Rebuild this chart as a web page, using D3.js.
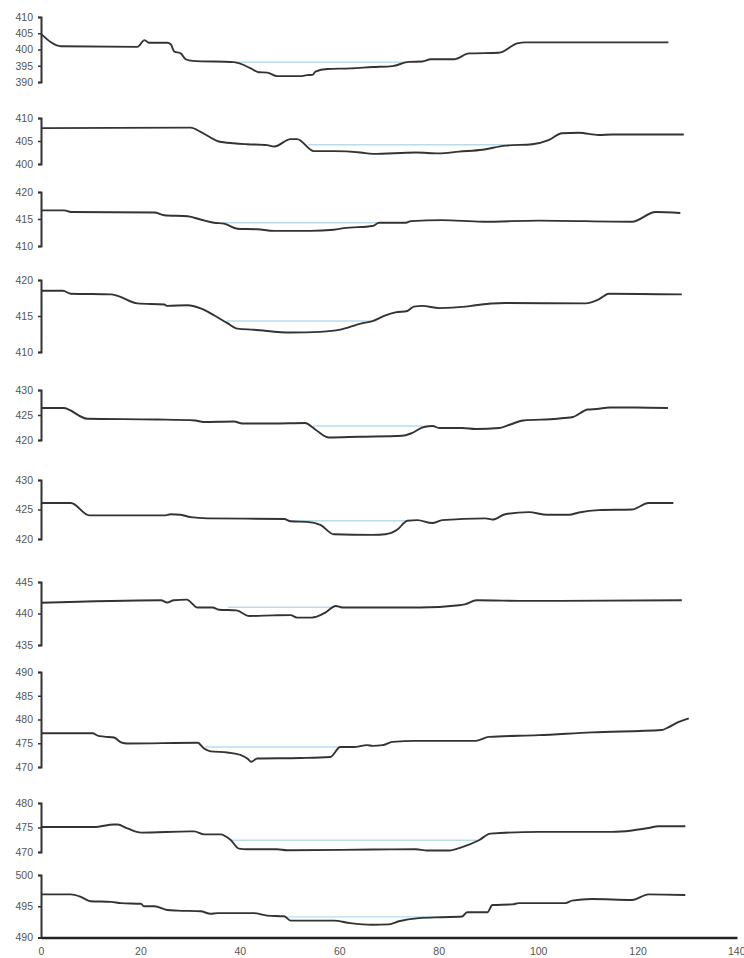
<!DOCTYPE html>
<html>
<head>
<meta charset="utf-8">
<script src="https://cdn.jsdelivr.net/npm/d3@7"></script>
<style>
  html, body { margin: 0; padding: 0; background: #fff; }
  svg { display: block; }
  .tick text { font-family: "Liberation Sans", Arial, sans-serif; font-size: 10.5px; fill: #555; }
</style>
</head>
<body>
<svg id="chart" width="744" height="958"></svg>
<script>
// ---------- DATA (distance, elevation) ----------
const section1 = [[0,404.8],[4,401],[19.4,400.8],[20.8,402.9],[21.7,402.1],[25.4,402.1],[26.1,401.6],[26.8,399.4],[28.1,398.8],[29.1,397],[30.5,396.5],[38.8,396.1],[42.2,394.2],[43.8,393],[45.5,392.9],[47.5,391.8],[52.2,391.8],[53.5,392.1],[54.6,392.2],[55.2,393.2],[57.6,394],[62.2,394.2],[66.7,394.6],[70.7,394.9],[74,396.2],[76.7,396.3],[78.4,397],[83.1,397],[86.1,398.8],[92.1,399],[95.8,401.9],[97.5,402.2],[126.2,402.2]];
const section2 = [[0,407.8],[30.1,407.9],[32.1,407],[35.8,404.9],[38.8,404.5],[41.5,404.3],[45.5,404.1],[46.9,403.8],[50.2,405.4],[51.5,405.4],[54.9,402.8],[58.9,402.8],[64.3,402.5],[66.7,402.2],[75.4,402.5],[80.1,402.3],[84.1,402.7],[88.8,403.1],[93.4,404],[98.8,404.3],[102.1,405.2],[104.8,406.7],[108.2,406.8],[112.2,406.3],[114.9,406.4],[129.3,406.4]];
const section3 = [[0,416.6],[4.7,416.6],[6,416.3],[22.8,416.2],[24.8,415.7],[29.5,415.5],[32.1,414.9],[34.8,414.3],[36.8,414.15],[39.5,413.2],[43.5,413.1],[46.9,412.8],[54.2,412.8],[58.9,413],[60.9,413.3],[66.7,413.7],[68,414.3],[73.4,414.3],[74.4,414.6],[80.7,414.8],[88.8,414.5],[100.1,414.7],[118.9,414.5],[123.6,416.3],[128.6,416.1]];
const section4 = [[0,418.5],[4.4,418.5],[6,418.1],[14.1,418],[15.4,417.8],[19.4,416.75],[24.8,416.6],[25.4,416.4],[29.5,416.5],[32.1,416.05],[34.8,415.1],[37.5,414],[39.5,413.25],[42.8,413.1],[50.2,412.7],[56.2,412.8],[60.2,413.1],[64.3,413.95],[66.7,414.3],[69.3,415.1],[71.3,415.5],[73.7,415.7],[75,416.3],[76.7,416.4],[80.1,416.1],[85.4,416.3],[87.4,416.5],[93.4,416.8],[109.5,416.75],[112.2,417.3],[114.2,418.1],[128.9,418]];
const section5 = [[0,426.4],[4.5,426.4],[9.3,424.25],[23.2,424.1],[31,423.9],[32.7,423.6],[38.8,423.7],[40.5,423.3],[46.6,423.3],[53.1,423.4],[55.3,422],[57.9,420.5],[64,420.65],[72.7,420.85],[74.4,421.3],[77,422.6],[78.8,422.8],[80.1,422.4],[84.8,422.4],[87.4,422.2],[92.2,422.4],[94.4,423.1],[97,423.9],[103.9,424.25],[105.2,424.4],[107,424.6],[110,426.1],[111.8,426.2],[114.4,426.5],[119.6,426.5],[126.1,426.4]];
const section6 = [[0,426.1],[6,426.1],[9.7,424],[24.8,424],[26.1,424.2],[28.1,424.1],[30.1,423.7],[33.5,423.5],[48.9,423.4],[50.2,423],[53.5,422.9],[56.2,422.4],[58.9,420.8],[66.7,420.7],[69.3,420.8],[71.7,421.6],[73.7,423.1],[75.7,423.2],[78.7,422.7],[80.7,423.2],[89.4,423.5],[90.8,423.3],[93.4,424.2],[98.1,424.55],[101.8,424.1],[106.2,424.1],[108.2,424.5],[112.2,424.9],[118.9,425],[122.2,426.1],[127.2,426.1]];
const section7 = [[0,441.7],[24.1,442.1],[25.4,441.75],[26.7,442.1],[29.3,442.2],[31.5,440.95],[34.5,440.95],[35.8,440.6],[39.3,440.5],[41.9,439.6],[46.7,439.7],[50.2,439.75],[51.5,439.35],[54.5,439.35],[57.1,440.1],[59.3,441.2],[60.6,440.95],[76.2,440.95],[84.1,441.3],[85.4,441.5],[87.6,442.1],[98,442],[128.9,442.1]];
const section8 = [[0,477.1],[10.4,477.1],[11.4,476.6],[12.7,476.4],[14.7,476.2],[16.1,475.2],[17.4,474.95],[31.5,475.1],[32.8,473.9],[34.1,473.3],[37.5,473.05],[40.2,472.5],[41.5,471.8],[42.3,471.1],[43.5,471.8],[52.2,471.9],[58.2,472.1],[60.2,474.2],[62.9,474.2],[65.6,474.6],[66.7,474.45],[68.7,474.6],[70.7,475.3],[75.4,475.5],[87.4,475.5],[90.1,476.35],[100.1,476.7],[110.8,477.3],[124.9,477.8],[126.2,478.35],[128.3,479.5],[130.3,480.25]];
const section9 = [[0,475.1],[10.7,475.1],[14.7,475.6],[15.4,475.6],[17.4,474.8],[20.1,473.95],[30.1,474.2],[30.8,474.2],[32.8,473.6],[36.1,473.6],[38.2,472.4],[39.8,470.7],[41.5,470.55],[47.5,470.55],[49.5,470.35],[66.7,470.5],[75.4,470.55],[77.7,470.3],[82.1,470.3],[84.7,471],[88.1,472.4],[90.4,473.75],[100.1,474.1],[114.9,474.1],[118.9,474.4],[122.2,474.9],[124.2,475.25],[129.6,475.25]];
const section10 = [[0,496.9],[6,496.9],[8,496.5],[10,495.8],[14.1,495.7],[16.1,495.5],[20.1,495.4],[20.7,495],[22.8,495],[25.4,494.4],[27.5,494.3],[32.1,494.2],[34.1,493.8],[35.5,493.9],[42.8,493.9],[45.5,493.5],[48.9,493.4],[50.2,492.7],[58.9,492.7],[62.2,492.3],[66.7,492.05],[70,492.1],[72,492.6],[76,493.1],[80.7,493.25],[84.7,493.35],[85.7,494.05],[89.8,494.05],[90.8,495.2],[94.8,495.3],[96.1,495.5],[105.5,495.5],[106.8,495.9],[110.8,496.15],[118.9,496],[122.2,496.9],[129.6,496.8]];

// water surface: [level, xStart, xEnd]
const waterLevels = [[396.1,38.8,73.5],[404.2,53.8,93.5],[414.3,36.5,68],[414.3,37.3,66.7],[422.8,54.8,76.7],[423.1,50.5,73.7],[441.0,37.6,59],[474.2,33,60.2],[472.4,38.2,88.1],[493.3,49,81]];

// y-axis domain [min, max] per section
const yDomains = [[390,410],[400,410],[410,420],[410,420],[420,430],[420,430],[435,445],[470,490],[470,480],[490,500]];
const xTicks = [0,20,40,60,80,100,120,140];

// ---------- LAYOUT ----------
const sections = [section1,section2,section3,section4,section5,section6,section7,section8,section9,section10];
const panelPx = [[17,82],[118,164],[192,246],[280,352],[390,440],[480,539],[582,645],[672,767],[803,852],[875,937.5]];
const left = 41, right = 737, axisY = 937.5;

const svg = d3.select("#chart");
const x = d3.scaleLinear().domain([0,140]).range([left,right]);
const smooth = d3.curveMonotoneX;

sections.forEach((data, i) => {
  const [lo, hi] = yDomains[i];
  const y = d3.scaleLinear().domain([lo,hi]).range([panelPx[i][1], panelPx[i][0]]);
  const g = svg.append("g");

  // water line
  const w = waterLevels[i];
  g.append("line")
    .attr("x1", x(w[1])).attr("x2", x(w[2]))
    .attr("y1", y(w[0])).attr("y2", y(w[0]))
    .attr("stroke", "#b9dcec").attr("stroke-width", 1.4);

  // profile
  g.append("path").datum(data)
    .attr("fill", "none").attr("stroke", "#333").attr("stroke-width", 1.9)
    .attr("stroke-linejoin", "round")
    .attr("d", d3.line().curve(smooth).x(d => x(d[0])).y(d => y(d[1])));

  // y axis
  const ticks = d3.range(lo, hi + 0.001, 5);
  const ax = g.append("g").attr("transform", `translate(${left},0)`)
    .call(d3.axisLeft(y).tickValues(ticks).tickSize(3).tickSizeOuter(3).tickPadding(5).tickFormat(d3.format("d")));
  ax.select(".domain").attr("stroke", "#333").attr("stroke-width", 2);
  ax.selectAll(".tick line").attr("stroke", "#333").attr("stroke-width", 1.5);
});

// x axis
const xa = svg.append("g").attr("transform", `translate(0,${axisY})`)
  .call(d3.axisBottom(x).tickValues(xTicks).tickSize(0).tickSizeOuter(0).tickPadding(10));
xa.select(".domain").attr("stroke", "#222").attr("stroke-width", 2.5);
xa.selectAll(".tick text").filter(d => d === 140).attr("text-anchor", "end").attr("dx", 8);
</script>
</body>
</html>
